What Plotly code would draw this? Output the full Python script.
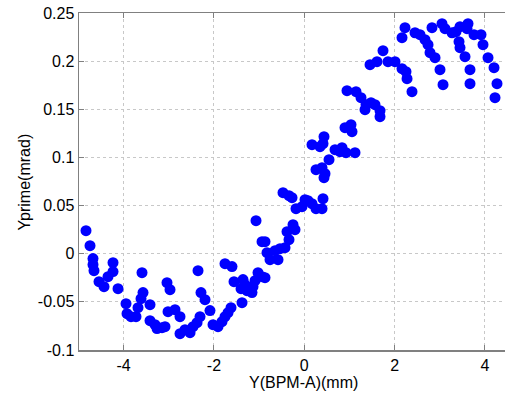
import plotly.graph_objects as go

# Data (Y position in mm, Yprime in mrad)
y_bpm = [
    -4.833, -4.744, -4.678, -4.678, -4.656, -4.545, -4.434, -4.346, -4.235, -4.235,
    -4.124, -3.593, -3.947, -3.925, -3.837, -3.726, -3.682, -3.615, -3.571, -3.416,
    -3.416, -3.305, -3.261, -3.150, -3.084, -3.040, -2.973, -3.017, -2.863, -2.752,
    -2.752, -2.641, -2.530, -2.464, -2.375, -2.309, -2.353, -2.287, -2.198, -2.088,
    -2.021, -1.911, -1.822, -1.756, -1.689, -1.623, -1.756, -1.601, -1.556, -1.379,
    -1.357, -1.313, -1.269, -1.158, -1.136, -1.025, -0.936, -0.870, -1.401, -1.069,
    -0.936, -0.870, -0.826, -0.759, -0.649, -0.582, -0.538, -0.427, -0.383, -0.339,
    -0.250, -0.206, -0.472, -0.339, -0.272, -1.091, -0.184, -0.051, 0.082, 0.170,
    0.259, 0.392, 0.414, 0.015, 0.259, 0.392, 0.458, 0.436, 0.547, 0.170,
    0.348, 0.436, 0.414, 0.680, 0.790, 0.835, 0.923, 1.122, 0.901, 1.034,
    1.056, 0.945, 1.145, 1.255, 1.366, 1.565, 1.676, 1.676, 1.344, 1.477,
    1.455, 1.609, 1.742, 1.853, 2.008, 2.163, 2.251, 2.274, 2.384, 2.229,
    2.163, 2.451, 2.561, 2.672, 2.739, 2.783, 2.894, 3.004, 3.071, 2.827,
    3.048, 3.115, 3.270, 3.358, 3.447, 3.624, 3.602, 3.757, 3.912, 3.425,
    3.447, 3.558, 3.668, 3.668, 3.956, 4.067, 4.200, 4.266, 4.222,
]
yprime = [
    0.0239, 0.0084, -0.0051, -0.0114, -0.0176, -0.0290, -0.0342, -0.0238, -0.0093, -0.0186,
    -0.0363, -0.0197, -0.0519, -0.0623, -0.0654, -0.0654, -0.0560, -0.0467, -0.0404, -0.0529,
    -0.0695, -0.0737, -0.0778, -0.0768, -0.0758, -0.0301, -0.0373, -0.0602, -0.0581, -0.0654,
    -0.0830, -0.0789, -0.0820, -0.0758, -0.0716, -0.0654, -0.0176, -0.0404, -0.0477, -0.0591,
    -0.0737, -0.0758, -0.0706, -0.0654, -0.0612, -0.0560, -0.0103, -0.0134, -0.0290, -0.0508,
    -0.0269, -0.0321, -0.0384, -0.0404, -0.0342, -0.0197, -0.0238, -0.0249, -0.0363, 0.0343,
    0.0125, 0.0125, 0.0011, -0.0062, 0.0032, -0.0062, 0.0052, 0.0063, 0.0229, 0.0146,
    0.0302, 0.0250, 0.0634, 0.0603, 0.0582, -0.0280, 0.0468, 0.0489, 0.0551, 0.0520,
    0.0468, 0.0468, 0.0572, 0.0561, 0.0873, 0.0894, 0.0831, 0.0790, 0.0977, 0.1132,
    0.1112, 0.1215, 0.1143, 0.1080, 0.1060, 0.1101, 0.1049, 0.1049, 0.1309, 0.1340,
    0.1267, 0.1693, 0.1683, 0.1620, 0.1548, 0.1548, 0.1485, 0.1423, 0.1496, 0.1569,
    0.1963, 0.1994, 0.2109, 0.1994, 0.1994, 0.1922, 0.1890, 0.1818, 0.1683, 0.2347,
    0.2244, 0.2295, 0.2275, 0.2223, 0.2171, 0.2088, 0.2036, 0.1911, 0.1755, 0.2347,
    0.2389, 0.2337, 0.2295, 0.2306, 0.2358, 0.2389, 0.2337, 0.2275, 0.2275, 0.2202,
    0.2140, 0.2046, 0.1911, 0.1766, 0.2171, 0.2036, 0.1932, 0.1766, 0.1620,
]

x_ticks = [-4, -2, 0, 2, 4]
x_tick_text = ["-4", "-2", "0", "2", "4"]
y_ticks = [-0.1, -0.05, 0, 0.05, 0.1, 0.15, 0.2, 0.25]
y_tick_text = ["-0.1", "-0.05", "0", "0.05", "0.1", "0.15", "0.2", "0.25"]
x_title = "Y(BPM-A)(mm)"
y_title = "Yprime(mrad)"

fig = go.Figure()
fig.add_trace(go.Scatter(
    x=y_bpm, y=yprime, mode="markers",
    marker=dict(color="#0000FF", size=11, line=dict(width=0)),
    showlegend=False, cliponaxis=True,
))

font = dict(family="Liberation Sans, Arial, sans-serif", size=16, color="#000000")
fig.update_layout(
    width=505, height=394,
    margin=dict(l=79, r=0, t=13, b=44, autoexpand=False),
    paper_bgcolor="white", plot_bgcolor="white",
    font=font,
    hovermode=False,
    xaxis=dict(
        range=[-4.988, 4.443], tickvals=x_ticks, ticktext=x_tick_text,
        showgrid=True, gridcolor="#c8c8c8", griddash="dot", gridwidth=1,
        zeroline=False, showline=True, linecolor="#808080", linewidth=1.5,
        mirror="ticks", ticks="inside", ticklen=5, tickcolor="#808080",
        tickfont=font, automargin=False, ticklabeloverflow="allow",
    ),
    yaxis=dict(
        range=[-0.1, 0.25], tickvals=y_ticks, ticktext=y_tick_text,
        showgrid=True, gridcolor="#c8c8c8", griddash="dot", gridwidth=1,
        zeroline=False, showline=True, linecolor="#808080", linewidth=1.5,
        ticks="inside", ticklen=5, tickcolor="#808080",
        tickfont=font, automargin=False, ticklabeloverflow="allow",
    ),
    annotations=[
        dict(text=x_title, xref="paper", yref="paper", x=0.527, y=-0.097,
             xanchor="center", yanchor="middle", showarrow=False, font=font),
        dict(text=y_title, xref="paper", yref="paper", x=-0.127, y=0.50,
             xanchor="center", yanchor="middle", showarrow=False, font=font,
             textangle=-90),
    ],
)

# remove the default page margin so the figure starts at the window corner
fig.write_html(
    "out.html",
    config={"displayModeBar": False, "staticPlot": True},
    post_script="document.body.style.margin='0';",
)
